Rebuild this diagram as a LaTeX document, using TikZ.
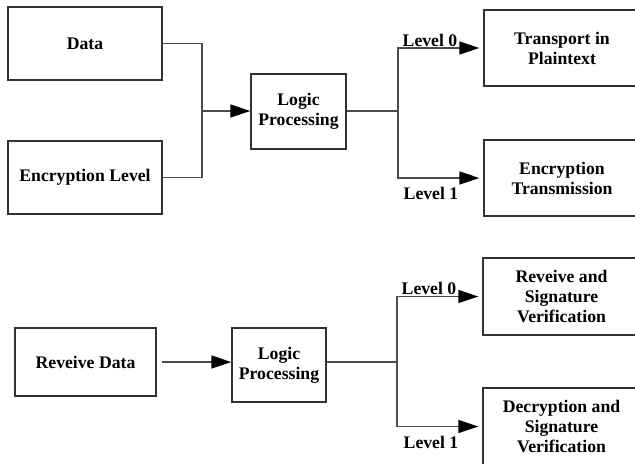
\documentclass[tikz,border=0pt]{standalone}
\usepackage{fontspec}
\setmainfont{Liberation Serif}
\usetikzlibrary{arrows.meta}

\begin{document}
\begin{tikzpicture}[x=0.5pt,y=-0.5pt,
  block/.style={draw=black!80,line width=0.7pt,align=center,inner sep=0pt,font=\bfseries\fontsize{8.85}{10}\selectfont},
  flow/.style={draw=black!70,line width=0.7pt},
  arr/.style={flow,-{Triangle[length=10pt,width=6.5pt,black]}},
  lvl/.style={font=\bfseries\fontsize{8.85}{10}\selectfont}]
  \useasboundingbox (0,0) rectangle (635,463);
  % sending side
  \node[block,minimum width=77pt,minimum height=36.5pt] (data) at (85,43.5) {Data};
  \node[block,minimum width=77pt,minimum height=36.5pt] (enclevel) at (85,177.5) {Encryption Level};
  \node[block,minimum width=47.5pt,minimum height=37.5pt] (logic1) at (298.5,111.5) {Logic\\Processing};
  \node[block,minimum width=78pt,minimum height=38pt] (transport) at (562,48) {Transport in\\Plaintext};
  \node[block,minimum width=78pt,minimum height=38pt] (enctrans) at (562,178) {Encryption\\Transmission};
  \coordinate (join1) at (202,111);
  \coordinate (split1) at (398,111);
  \draw[flow] (data.east) -| (join1) |- (enclevel.east);
  \draw[arr] (join1) -- (join1 -| logic1.west);
  \draw[flow] (logic1.east |- split1) -- (split1);
  \draw[arr,shorten >=2pt] (split1) |- (transport.west);
  \draw[arr,shorten >=2pt] (split1) |- (enctrans.west);
  \node[lvl] (lv0a) at (430,40) {Level 0};
  \node[lvl] (lv1a) at (431,193) {Level 1};
  % receiving side
  \node[block,minimum width=70.5pt,minimum height=34pt] (recv) at (85.5,362) {Reveive Data};
  \node[block,minimum width=47pt,minimum height=37pt] (logic2) at (279,365) {Logic\\Processing};
  \node[block,minimum width=78.5pt,minimum height=38.5pt] (recvsig) at (561.5,296.5) {Reveive and\\Signature\\Verification};
  \node[block,minimum width=78.5pt,minimum height=38.5pt] (decsig) at (561.5,426.5) {Decryption and\\Signature\\Verification};
  \coordinate (split2) at (397,362);
  \draw[arr,shorten <=2.5pt] (recv.east) -- (recv.east -| logic2.west);
  \draw[flow] (logic2.east |- split2) -- (split2);
  \draw[arr,shorten >=2pt] (split2) |- (recvsig.west);
  \draw[arr,shorten >=2pt] (split2) |- (decsig.west);
  \node[lvl] (lv0b) at (429,288) {Level 0};
  \node[lvl] (lv1b) at (431,442) {Level 1};
\end{tikzpicture}
\end{document}
